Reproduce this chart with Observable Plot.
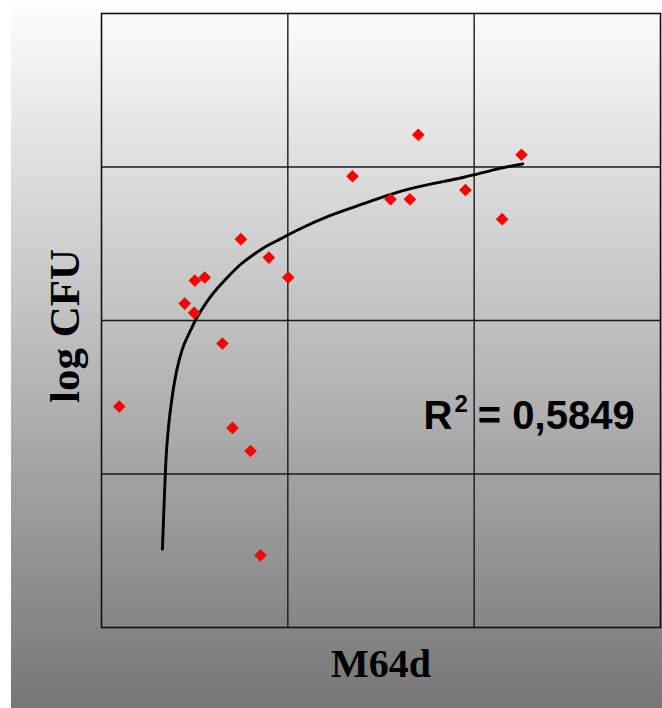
<!DOCTYPE html>
<html>
<head>
<meta charset="utf-8">
<script src="https://cdn.jsdelivr.net/npm/d3@7"></script>
<script src="https://cdn.jsdelivr.net/npm/@observablehq/plot@0.6"></script>
<style>
  html, body { margin: 0; padding: 0; background: #fff; }
  #wrap {
    width: 662px; height: 708px; position: relative;
    background:
      linear-gradient(to right, #ffffff 0, #ffffff 11px, transparent 11px),
      linear-gradient(to bottom, #fefefe 0%, #767676 100%);
  }
  #wrap svg { display: block; background: transparent; }
</style>
</head>
<body>
<div id="wrap"></div>
<script>
// Scatter points (M64d vs log CFU)
const pointX = [9.5, 44.7, 50.1, 55.4, 49.7, 64.9, 74.8, 89.8, 100.2, 70.3, 80.0, 85.3, 134.7, 155.1, 165.5, 170.0, 195.3, 215.0, 225.4];
const pointY = [5.44, 6.11, 6.26, 6.28, 6.05, 5.85, 6.53, 6.41, 6.28, 5.30, 5.15, 4.47, 6.94, 6.79, 6.79, 7.21, 6.85, 6.66, 7.08];

// Logarithmic trendline
const trendX = [32.7, 33.4, 34.2, 34.9, 36.1, 37.4, 39.2, 41.5, 44.2, 48.1, 50.1, 56.7, 62.1, 67.5, 74.6, 81.7, 88.9, 96.1, 103.2, 122.9, 140.8, 158.7, 176.6, 194.4, 212.4, 226.1];
const trendY = [4.51, 4.74, 5.00, 5.17, 5.33, 5.46, 5.61, 5.74, 5.85, 5.94, 6.00, 6.13, 6.21, 6.28, 6.37, 6.43, 6.49, 6.53, 6.58, 6.69, 6.76, 6.84, 6.89, 6.93, 6.99, 7.02];

// Grid lines (no tick labels shown)
const xGridTicks = [100, 200];
const yGridTicks = [5, 6, 7];
const xDomain = [0, 300];
const yDomain = [4, 8];

const xLabel = "M64d";
const yLabel = "log CFU";
const r2Label = "R2 = 0,5849";

const points = pointX.map((x, i) => ({x, y: pointY[i]}));
const trend = trendX.map((x, i) => ({x, y: trendY[i]}));

const chart = Plot.plot({
  width: 662,
  height: 708,
  marginLeft: 101,
  marginRight: 2,
  marginTop: 13,
  marginBottom: 81,
  style: {background: "transparent", overflow: "visible"},
  x: {domain: xDomain, axis: null},
  y: {domain: yDomain, axis: null},
  marks: [
    Plot.gridX(xGridTicks, {stroke: "#1a1a1a", strokeOpacity: 1, strokeWidth: 1.4}),
    Plot.gridY(yGridTicks, {stroke: "#1a1a1a", strokeOpacity: 1, strokeWidth: 1.4}),
    Plot.frame({stroke: "#111", strokeWidth: 1.6}),
    Plot.line(trend, {x: "x", y: "y", stroke: "#000", strokeWidth: 2.9, curve: "basis"}),
    Plot.dot(points, {x: "x", y: "y", symbol: "diamond2", r: 5.7, fill: "#ff0000", stroke: "none"}),
    Plot.text([xLabel], {
      frameAnchor: "bottom", dy: 37, text: d => d, textAnchor: "middle",
      fontFamily: "Liberation Serif", fontWeight: "bold", fontSize: 40, fill: "#000", lineAnchor: "middle"
    }),
    Plot.text([yLabel], {
      frameAnchor: "left", dx: -36, dy: 5.5, rotate: -90, text: d => d, textAnchor: "middle",
      fontFamily: "Liberation Serif", fontWeight: "bold", fontSize: 43, fill: "#000", lineAnchor: "middle"
    }),
    Plot.text([r2Label], {
      frameAnchor: "top-left", dx: 322, dy: 403, text: d => d, textAnchor: "start",
      fontFamily: "Liberation Sans", fontWeight: "bold", fontSize: 40, fill: "#000", lineAnchor: "middle",
      className: "r2label"
    })
  ]
});

// Superscript the "2" in R2
d3.select(chart).selectAll(".r2label text").each(function() {
  const t = d3.select(this);
  const s = t.text();
  t.text(null);
  t.append("tspan").text(s[0]);
  t.append("tspan").attr("dy", "-17").attr("dx", "2").attr("font-size", 24).style("font-size", "24px").text(s[1]);
  t.append("tspan").attr("dy", "17").attr("dx", "-1").text(s.slice(2));
});

document.getElementById("wrap").appendChild(chart);
</script>
</body>
</html>
